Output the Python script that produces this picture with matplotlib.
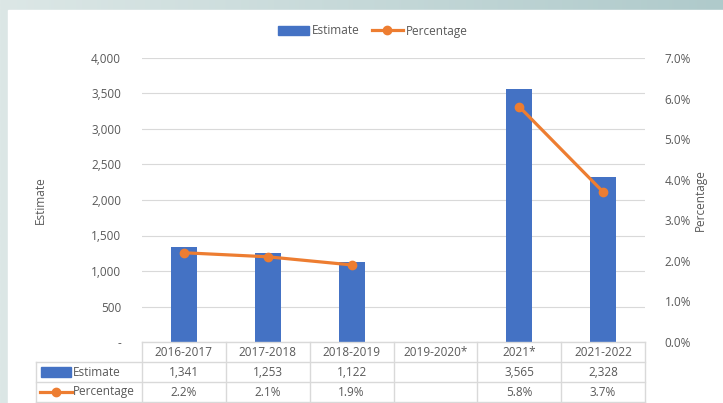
import numpy as np
import matplotlib.pyplot as plt
from matplotlib.patches import Rectangle
from matplotlib.lines import Line2D
from matplotlib.colors import LinearSegmentedColormap
from matplotlib.ticker import FuncFormatter, MultipleLocator

# Chart data
years = ["2016-2017", "2017-2018", "2018-2019", "2019-2020*", "2021*", "2021-2022"]
estimate = [1341, 1253, 1122, np.nan, 3565, 2328]
percentage = [2.2, 2.1, 1.9, np.nan, 5.8, 3.7]

BLUE = "#4472C4"
ORANGE = "#ED7D31"
GREY = "#595959"
GRID = "#D9D9D9"
FS = 8.5

plt.rcParams["font.family"] = ["Open Sans", "DejaVu Sans"]
plt.rcParams["font.size"] = FS

fig = plt.figure(figsize=(7.23, 4.03), dpi=100)

# soft gradient frame behind a white chart panel
bg = fig.add_axes([0, 0, 1, 1], zorder=-10)
grad = np.linspace(0, 1, 256).reshape(1, -1)
cmap = LinearSegmentedColormap.from_list("frame", ["#DCE7E6", "#AFCACB"])
bg.imshow(grad, aspect="auto", cmap=cmap, extent=[0, 1, 0, 1])
bg.add_patch(Rectangle((8 / 723, 0), 1, 1 - 10 / 403, color="white"))
bg.set_xlim(0, 1)
bg.set_ylim(0, 1)
bg.axis("off")

AX_W = 503
AX_H = 284
ax = fig.add_axes([142 / 723, 1 - 342 / 403, AX_W / 723, AX_H / 403])
x = np.arange(len(years))
ax.bar(x, estimate, width=0.31, color=BLUE, zorder=2)
ax.set_xlim(-0.5, len(years) - 0.5)
ax.set_ylim(0, 4000)
ax.yaxis.set_major_locator(MultipleLocator(500))
ax.yaxis.set_major_formatter(FuncFormatter(lambda v, p: "-" if v == 0 else f"{v:,.0f}"))
ax.grid(axis="y", color=GRID, linewidth=0.8, zorder=0)
ax.set_xticks([])
for s in ax.spines.values():
    s.set_visible(False)
ax.tick_params(axis="y", length=0, colors=GREY, pad=15)
ax.set_ylabel("Estimate", color=GREY, fontsize=FS)
ax.yaxis.set_label_coords(-(142 - 47) / AX_W, 0.5)

ax2 = ax.twinx()
ax2.plot(x, percentage, color=ORANGE, linewidth=2.3, marker="o", markersize=6, zorder=3)
ax2.set_ylim(0, 7)
ax2.yaxis.set_major_locator(MultipleLocator(1))
ax2.yaxis.set_major_formatter(FuncFormatter(lambda v, p: f"{v:.1f}%"))
for s in ax2.spines.values():
    s.set_visible(False)
ax2.tick_params(axis="y", length=0, colors=GREY, pad=14)
ax2.set_ylabel("Percentage", color=GREY, fontsize=FS)
ax2.yaxis.set_label_coords((694 - 142) / AX_W, 0.5)

# data table under the plot
tr = ax.get_xaxis_transform()
row_h = 20 / AX_H
rows_y = [0, -row_h, -2 * row_h, -3 * row_h]
px = len(years) / AX_W  # data units per pixel
label_left = -0.5 - (142 - 36) * px
line_kw = dict(color=GRID, linewidth=1, transform=tr, clip_on=False)

ax.add_line(Line2D([-0.5, 5.5], [rows_y[0]] * 2, **line_kw))
for yy in rows_y[1:]:
    ax.add_line(Line2D([label_left, 5.5], [yy] * 2, **line_kw))
for b in np.arange(-0.5, 6.0, 1.0):
    ax.add_line(Line2D([b, b], [rows_y[0], rows_y[3]], **line_kw))
ax.add_line(Line2D([label_left, label_left], [rows_y[1], rows_y[3]], **line_kw))

for i, yr in enumerate(years):
    ax.text(i, rows_y[0] - row_h / 2, yr, transform=tr, ha="center", va="center", color=GREY)
    if not np.isnan(estimate[i]):
        ax.text(i, rows_y[1] - row_h / 2, f"{estimate[i]:,.0f}", transform=tr,
                ha="center", va="center", color=GREY)
    if not np.isnan(percentage[i]):
        ax.text(i, rows_y[2] - row_h / 2, f"{percentage[i]:.1f}%", transform=tr,
                ha="center", va="center", color=GREY)

# legend keys inside the table row labels
ax.add_patch(Rectangle((label_left + 5 * px, rows_y[1] - row_h * 0.75), 30 * px, row_h * 0.5,
                       transform=tr, color=BLUE, clip_on=False))
ax.text(label_left + 37 * px, rows_y[1] - row_h / 2, "Estimate", transform=tr,
        ha="left", va="center", color=GREY)
ax.add_line(Line2D([label_left + 4 * px, label_left + 36 * px], [rows_y[2] - row_h / 2] * 2,
                   color=ORANGE, linewidth=2.3, transform=tr, clip_on=False))
ax.add_line(Line2D([label_left + 20 * px], [rows_y[2] - row_h / 2], color=ORANGE, marker="o",
                   markersize=6, transform=tr, clip_on=False))
ax.text(label_left + 37 * px, rows_y[2] - row_h / 2, "Percentage", transform=tr,
        ha="left", va="center", color=GREY)

# legend at the top
handles = [Rectangle((0, 0), 1, 1, color=BLUE),
           Line2D([0], [0], color=ORANGE, linewidth=2.3, marker="o", markersize=6)]
fig.legend(handles, ["Estimate", "Percentage"], loc="center", bbox_to_anchor=(373 / 723, 1 - 31 / 403),
           ncol=2, frameon=False, fontsize=FS, labelcolor=GREY, handlelength=2.6,
           handleheight=0.75, columnspacing=1.0, handletextpad=0.3)

fig.savefig("out.png", dpi=100)
